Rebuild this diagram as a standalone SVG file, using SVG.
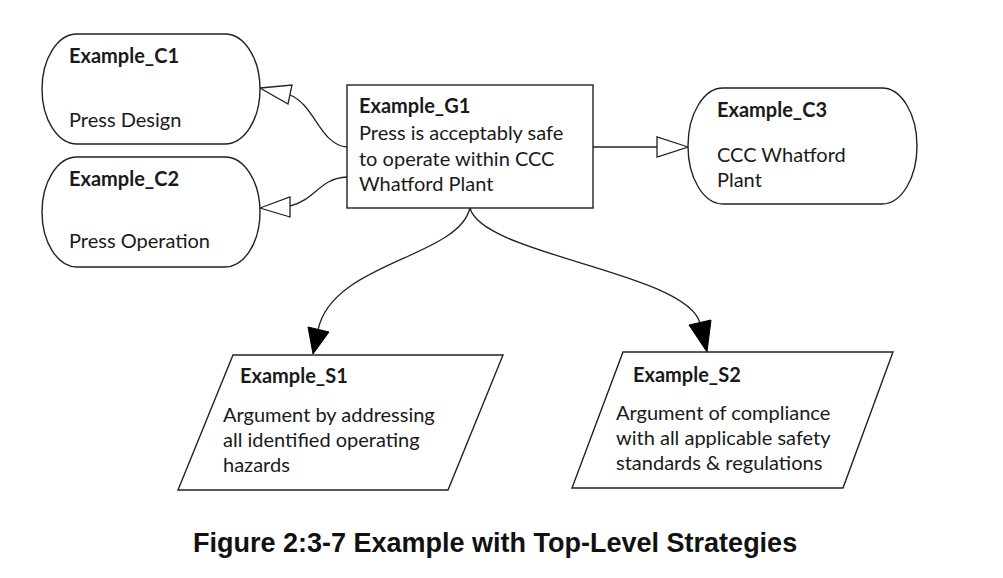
<svg xmlns="http://www.w3.org/2000/svg" width="1003" height="578" viewBox="0 0 1003 578">
<style>
.shape{fill:#fff;stroke:#222;stroke-width:1.4}
.edge{fill:none;stroke:#222;stroke-width:1.3}
.hollow{fill:#fff;stroke:#222;stroke-width:1.3;stroke-linejoin:miter}
.solid{fill:#000;stroke:#000;stroke-width:1}
text{font-family:Lato,"Open Sans","Liberation Sans",sans-serif;font-size:20px;fill:#1a1a1a}
.b{font-weight:bold}
.cap{font-family:"Liberation Sans",Arial,sans-serif;font-size:27px;font-weight:bold;fill:#111}
</style>
<rect width="1003" height="578" fill="#fff"/>
<g id="connectors">
<path class="edge" d="M347,147 C320,145 315,105 290,95"/>
<polygon class="hollow" points="260,88 292,85 288,104"/>
<path class="edge" d="M347,177 C320,178 315,200 290,206"/>
<polygon class="hollow" points="260,208 290,197 290,217"/>
<path class="edge" d="M593,147 L657,147"/>
<polygon class="hollow" points="688,147 657,137 657,157"/>
<path class="edge" d="M470,208 C458,258 332,262 318,330"/>
<polygon class="solid" points="313,354 308,327 329,332"/>
<path class="edge" d="M470,208 C482,255 686,272 700,323"/>
<polygon class="solid" points="707,352 689,325 711,320"/>
</g>
<g id="Example_C1">
<rect class="shape" x="42" y="34" width="218" height="110" rx="35" ry="55"/>
<text class="b" x="69" y="63">Example_C1</text>
<text x="69" y="127">Press Design</text>
</g>
<g id="Example_C2">
<rect class="shape" x="42" y="157" width="218" height="110" rx="35" ry="55"/>
<text class="b" x="69" y="186">Example_C2</text>
<text x="69" y="248">Press Operation</text>
</g>
<g id="Example_G1">
<rect class="shape" x="347" y="85" width="246" height="123"/>
<text class="b" x="359" y="113">Example_G1</text>
<text x="359" y="140">Press is acceptably safe</text>
<text x="359" y="166">to operate within CCC</text>
<text x="359" y="191">Whatford Plant</text>
</g>
<g id="Example_C3">
<rect class="shape" x="688" y="88" width="229" height="116" rx="35" ry="58"/>
<text class="b" x="717" y="117">Example_C3</text>
<text x="717" y="162">CCC Whatford</text>
<text x="717" y="187">Plant</text>
</g>
<g id="Example_S1">
<polygon class="shape" points="233,355 503,355 448,490 178,490"/>
<text class="b" x="240" y="383">Example_S1</text>
<text x="223" y="422">Argument by addressing</text>
<text x="223" y="447">all identified operating</text>
<text x="223" y="472">hazards</text>
</g>
<g id="Example_S2">
<polygon class="shape" points="623,352 893,352 843,488 572,488"/>
<text class="b" x="633" y="382">Example_S2</text>
<text x="616" y="420">Argument of compliance</text>
<text x="616" y="445">with all applicable safety</text>
<text x="616" y="470">standards &amp; regulations</text>
</g>
<text class="cap" x="193" y="552">Figure 2:3-7 Example with Top-Level Strategies</text>
</svg>
